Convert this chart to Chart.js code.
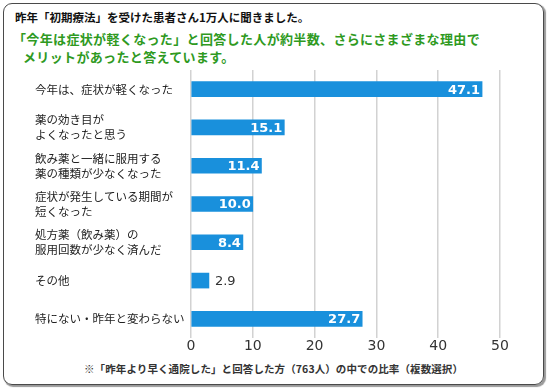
<!DOCTYPE html>
<html>
<head>
<meta charset="utf-8">
<script src="https://cdn.jsdelivr.net/npm/chart.js@4"></script>
<style>
  body { margin: 0; background: #fff; width: 550px; height: 392px; overflow: hidden; font-family: "Noto Sans CJK JP", sans-serif; }
  #frame { position: absolute; left: 3px; top: 3px; width: 539px; height: 380px; border: 1.5px solid #4a4a4a; border-radius: 9px; box-shadow: 1.5px 1.5px 1px #999; }
  .txt { position: absolute; white-space: pre; }
  #t1 { left: 15px; top: 9px; font-size: 11.5px; font-weight: 700; color: #111; }
  .green { font-size: 13px; font-weight: 700; color: #2f9a1f; letter-spacing: 0.35px; }
  #t2 { left: 13px; top: 29px; }
  #t3 { left: 23px; top: 47px; }
  #note { left: 84px; top: 361px; font-size: 10.5px; font-weight: 700; color: #333; letter-spacing: 0.1px; }
  #wrap { position: absolute; left: 0; top: 0; width: 550px; height: 392px; }
</style>
</head>
<body>
<div id="frame"></div>
<div class="txt" id="t1">昨年「初期療法」を受けた患者さん1万人に聞きました。</div>
<div class="txt green" id="t2">「今年は症状が軽くなった」と回答した人が約半数、さらにさまざまな理由で</div>
<div class="txt green" id="t3">メリットがあったと答えています。</div>
<div class="txt" id="note">※「昨年より早く通院した」と回答した方（763人）の中での比率（複数選択）</div>
<div id="wrap"><canvas id="bar-chart" width="550" height="392"></canvas></div>
<script>
const categories = [
  '今年は、症状が軽くなった',
  ['薬の効き目が', 'よくなったと思う'],
  ['飲み薬と一緒に服用する', '薬の種類が少なくなった'],
  ['症状が発生している期間が', '短くなった'],
  ['処方薬（飲み薬）の', '服用回数が少なく済んだ'],
  'その他',
  '特にない・昨年と変わらない'
];
const values = [47.1, 15.1, 11.4, 10.0, 8.4, 2.9, 27.7];
const xTicks = [0, 10, 20, 30, 40, 50];

// value labels at the end of each bar
const barLabels = {
  id: 'barLabels',
  afterDatasetsDraw(chart) {
    const ctx = chart.ctx;
    const meta = chart.getDatasetMeta(0);
    ctx.save();
    ctx.textBaseline = 'middle';
    meta.data.forEach((bar, i) => {
      const txt = values[i].toFixed(1);
      if (bar.x - bar.base > 30) {
        ctx.font = 'bold 13px "DejaVu Sans"';
        ctx.fillStyle = '#fff';
        ctx.textAlign = 'right';
        ctx.fillText(txt, bar.x - 2, bar.y + 1);
      } else {
        ctx.font = '13px "DejaVu Sans"';
        ctx.fillStyle = '#333';
        ctx.textAlign = 'left';
        ctx.fillText(txt, bar.x + 6, bar.y + 1);
      }
    });
    ctx.restore();
  }
};

new Chart(document.getElementById('bar-chart'), {
  type: 'bar',
  data: {
    labels: categories,
    datasets: [{
      data: values,
      backgroundColor: '#1990dc',
      barThickness: 15
    }]
  },
  options: {
    indexAxis: 'y',
    responsive: false,
    animation: false,
    layout: { padding: { left: 35, top: 70, right: 50, bottom: 34 } },
    plugins: { legend: { display: false }, tooltip: { enabled: false } },
    scales: {
      x: {
        min: 0, max: 50,
        afterBuildTicks: (s) => { s.ticks = xTicks.map(v => ({ value: v })); },
        afterFit: (s) => { s.height = 20; },
        grid: { color: '#d2d2d2', lineWidth: 1.5, drawTicks: false },
        border: { display: false },
        ticks: { padding: 0, color: '#333', font: { family: 'DejaVu Sans', size: 14 } }
      },
      y: {
        afterFit: (s) => { s.width = 156; },
        grid: { display: false },
        border: { display: false },
        ticks: { crossAlign: 'far', padding: 0, color: '#222',
          font: { family: 'Noto Sans CJK JP', size: 11.5, lineHeight: 1.3 } }
      }
    }
  },
  plugins: [barLabels]
});
</script>
</body>
</html>
